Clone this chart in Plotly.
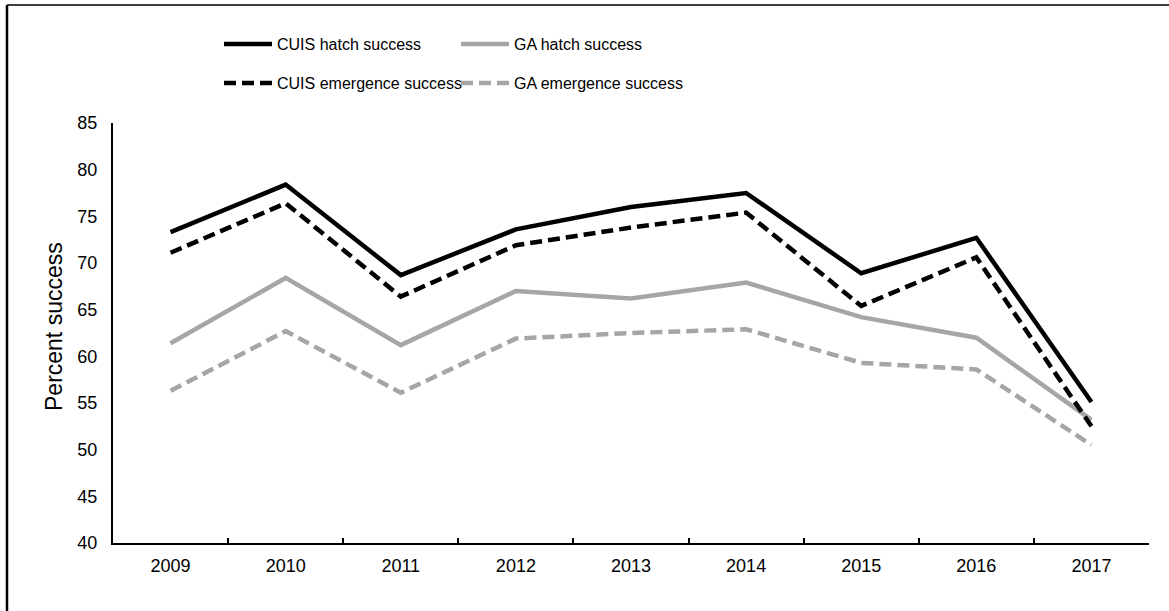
import plotly.graph_objects as go

years = ["2009", "2010", "2011", "2012", "2013", "2014", "2015", "2016", "2017"]
cuis_hatch = [73.3, 78.4, 68.7, 73.6, 76.0, 77.5, 68.9, 72.7, 55.1]
ga_hatch = [61.4, 68.4, 61.2, 67.0, 66.2, 67.9, 64.2, 62.0, 53.2]
cuis_emerg = [71.1, 76.4, 66.4, 71.9, 73.8, 75.4, 65.4, 70.6, 52.5]
ga_emerg = [56.3, 62.7, 56.1, 61.9, 62.5, 62.9, 59.3, 58.6, 50.5]
y_title = "Percent success"

BLACK = "#000000"
GRAY = "#A6A6A6"
FONT = "Liberation Sans, Arial, sans-serif"
DASH = "12px,6px"

series = [
    ("CUIS hatch success", cuis_hatch, BLACK, "solid", "legend"),
    ("GA hatch success", ga_hatch, GRAY, "solid", "legend2"),
    ("CUIS emergence success", cuis_emerg, BLACK, DASH, "legend3"),
    ("GA emergence success", ga_emerg, GRAY, DASH, "legend4"),
]

fig = go.Figure()
for name, vals, color, dash, leg in series:
    fig.add_trace(go.Scatter(
        x=years, y=vals, name=name, mode="lines",
        line=dict(color=color, width=4.5, dash=dash),
        legend=leg, showlegend=True,
    ))

W, H = 1169, 611
L, R, T, B = 113, 20, 123, 68
pw, ph = W - L - R, H - T - B

def px_x(x):
    return (x - L) / pw

def px_y(y):
    return (H - B - y) / ph

legbase = dict(bgcolor="rgba(0,0,0,0)", borderwidth=0, xanchor="left", yanchor="middle",
               font=dict(family=FONT, size=16, color="#000"), itemwidth=48)

fig.update_layout(
    width=W, height=H,
    margin=dict(l=L, r=R, t=T, b=B),
    paper_bgcolor="white", plot_bgcolor="white",
    font=dict(family=FONT, size=18, color="#000"),
    showlegend=True,
    legend=dict(legbase, x=px_x(219), y=px_y(44)),
    legend2=dict(legbase, x=px_x(456), y=px_y(44)),
    legend3=dict(legbase, x=px_x(219), y=px_y(83)),
    legend4=dict(legbase, x=px_x(456), y=px_y(83)),
    xaxis=dict(
        type="category", range=[-0.5, 8.5], showgrid=False, showline=True,
        linecolor="#000", linewidth=2,
        ticks="inside", ticklen=5, tickwidth=2, tickcolor="#000", tickson="boundaries",
        tickfont=dict(size=18), ticklabelstandoff=5,
    ),
    yaxis=dict(
        range=[40, 85], dtick=5, showgrid=False, showline=True, linecolor="#000", linewidth=2,
        ticks="", tickfont=dict(size=18), ticklabelstandoff=10, zeroline=False,
    ),
    annotations=[
        dict(text=y_title, textangle=-90, xref="paper", yref="paper",
             x=px_x(54), y=px_y(327), xanchor="center", yanchor="middle",
             showarrow=False, font=dict(size=23, color="#000")),
    ],
    shapes=[
        dict(type="line", xref="paper", yref="paper", x0=px_x(7), x1=px_x(1169),
             y0=px_y(5), y1=px_y(5), line=dict(color="#000", width=1.5)),
        dict(type="line", xref="paper", yref="paper", x0=px_x(7), x1=px_x(7),
             y0=px_y(5), y1=px_y(611), line=dict(color="#000", width=2.5)),
    ],
)

fig.write_html("out.html", config={"displayModeBar": False},
               post_script="document.body.style.margin='0';")
